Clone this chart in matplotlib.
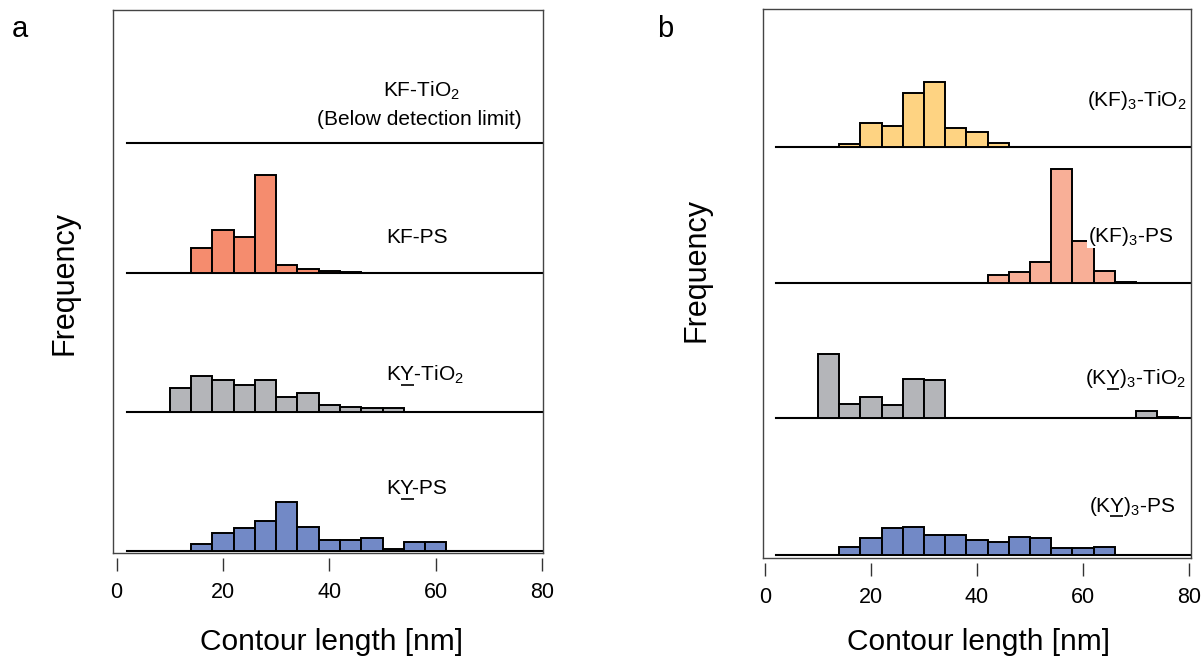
import numpy as np
import matplotlib
matplotlib.use('Agg')
import matplotlib.pyplot as plt

plt.rcParams['font.family'] = ['Liberation Sans', 'DejaVu Sans']
plt.rcParams['mathtext.fontset'] = 'custom'
plt.rcParams['mathtext.rm'] = 'Liberation Sans'

# histogram bins: 4 nm wide, left edges 2..78
EDGES = np.arange(2, 82, 4)

# panel a (KF / KY monomers), bar heights (arb. units)
KF_TIO2 = [0] * 20   # below detection limit
KF_PS   = [0, 0, 0, 25, 43, 36, 98, 7.7, 4.3, 1.7, 1.3, 0.5, 0, 0, 0, 0, 0, 0, 0, 0]
KY_TIO2 = [0, 0, 24, 36, 32, 27, 32, 14.7, 19, 7.3, 5.3, 4, 4.3, 0, 0, 0, 0, 0, 0, 0]
KY_PS   = [0, 0, 0, 7, 18.3, 22.7, 29.7, 48.7, 24, 11, 11, 13, 2.3, 8.7, 8.7, 0, 0, 0, 0, 0]

# panel b (trimers)
KF3_TIO2 = [0, 0, 0, 2.7, 24, 20.7, 53.3, 64.7, 18.7, 14.3, 3.7, 0, 0, 0, 0, 0, 0, 0, 0, 0]
KF3_PS   = [0, 0, 0, 0, 0, 0, 0, 0, 0, 0, 7.3, 10.7, 20.7, 114, 42, 11.7, 1, 0, 0, 0]
KY3_TIO2 = [0, 0, 64.3, 14, 21, 13, 39.7, 38.3, 0, 0, 0, 0, 0, 0, 0, 0, 0, 7.3, 1.7, 0]
KY3_PS   = [0, 0, 0, 8.3, 16.7, 26.7, 28.3, 19.7, 19.7, 15, 13, 18.3, 16.7, 6.7, 6.7, 8.3, 0, 0, 0, 0]

# labels: (prefix, underlined part, rest); underline used for the Y residue
LABELS_A = [('KF-TiO$_2$', '', ''), ('KF-PS', '', ''),
            ('K', 'Y', '-TiO$_2$'), ('K', 'Y', '-PS')]
LABELS_B = [('(KF)$_3$-TiO$_2$', '', ''), ('(KF)$_3$-PS', '', ''),
            ('(K', 'Y', ')$_3$-TiO$_2$'), ('(K', 'Y', ')$_3$-PS')]
XTICKS = [0, 20, 40, 60, 80]

C_ORANGE = '#F58C6E'; C_GREY = '#B4B5B9'; C_BLUE = '#7289C6'
C_YELLOW = '#FED382'; C_PINK = '#F8AF97'
FS = 15

fig = plt.figure(figsize=(12.02, 6.64), dpi=100)
ax_a = fig.add_axes([113/1202, 1-553/664, 430/1202, 543/664])
ax_b = fig.add_axes([762.7/1202, 1-557.7/664, 428/1202, 548.4/664])
renderer = fig.canvas.get_renderer()


def stack(ax, series, colors, bases):
    for vals, col, base in zip(series, colors, bases):
        vals = np.asarray(vals, float)
        ax.plot([EDGES[0], 90], [base, base], color='k', lw=1.5, zorder=2)
        m = vals > 0
        ax.bar(EDGES[m], vals[m], width=4, bottom=base, align='edge',
               color=col, edgecolor='k', lw=1.4, zorder=3)


def frame(ax, xlim, ylim):
    ax.set_xlim(*xlim); ax.set_ylim(*ylim)
    ax.set_yticks([])
    ax.set_xticks(XTICKS)
    for s in ['left', 'right', 'top']:
        ax.spines[s].set_color('#444'); ax.spines[s].set_linewidth(1)
    ax.spines['bottom'].set_position(('outward', 3.6))
    ax.spines['bottom'].set_color('none')
    ax.plot([0, 1], [0, 0], transform=ax.transAxes, color='#444', lw=1, clip_on=False, zorder=5)
    ax.tick_params(axis='x', length=9.5, width=1, pad=8, labelsize=15.5, color='#333')


def label(ax, x, y, parts, **kw):
    pre, ul, post = parts
    t = ax.text(x, y, pre + ul + post, ha='left', va='baseline', fontsize=FS, zorder=6, **kw)
    if ul:
        w0 = ax.text(x, y, pre, fontsize=FS, alpha=0).get_window_extent(renderer).width
        w1 = ax.text(x, y, pre + ul, fontsize=FS, alpha=0).get_window_extent(renderer).width
        px, py = ax.transData.transform((x, y))
        inv = ax.transData.inverted()
        (xa, ya), (xb, _) = inv.transform([(px + w0 + 0.5, py - 4.5), (px + w1 - 0.5, py - 4.5)])
        ax.plot([xa, xb], [ya, ya], color='k', lw=1.2, zorder=7, solid_capstyle='butt')
    return t


# panel a
stack(ax_a, [KF_TIO2, KF_PS, KY_TIO2, KY_PS], [C_ORANGE, C_ORANGE, C_GREY, C_BLUE], [410, 280, 141, 2])
frame(ax_a, (-0.66, 80.17), (0, 543))
ax_a.text(57.3, 457, 'KF-TiO$_2$', ha='center', va='baseline', fontsize=FS)
ax_a.text(57.0, 428, '(Below detection limit)', ha='center', va='baseline', fontsize=FS)
label(ax_a, 50.7, 310.3, LABELS_A[1])
label(ax_a, 50.7, 173, LABELS_A[2])
label(ax_a, 50.7, 59, LABELS_A[3])

# panel b
stack(ax_b, [KF3_TIO2, KF3_PS, KY3_TIO2, KY3_PS], [C_YELLOW, C_PINK, C_GREY, C_BLUE], [411, 275, 139.4, 2.7])
frame(ax_b, (-0.43, 80.32), (0, 548.4))
label(ax_b, 60.75, 451.7, LABELS_B[0])
label(ax_b, 60.9, 316, LABELS_B[1], bbox=dict(fc='white', ec='none', pad=0.5))
label(ax_b, 60.4, 173.4, LABELS_B[2])
label(ax_b, 61.1, 46, LABELS_B[3])

# figure-level labels
fig.text(12/1202, 1-37/664, 'a', fontsize=21, ha='left', va='baseline')
fig.text(657/1202, 1-37/664, 'b', fontsize=21, ha='left', va='baseline')
fig.text(331.5/1202, 1-650/664, 'Contour length [nm]', fontsize=21.5, ha='center', va='baseline')
fig.text(978.5/1202, 1-650/664, 'Contour length [nm]', fontsize=21.5, ha='center', va='baseline')
fig.text(65/1202, 1-283/664, 'Frequency', fontsize=22, rotation=90, ha='center', va='center')
fig.text(696/1202, 1-270/664, 'Frequency', fontsize=22, rotation=90, ha='center', va='center')

fig.savefig('out.png', dpi=100)
